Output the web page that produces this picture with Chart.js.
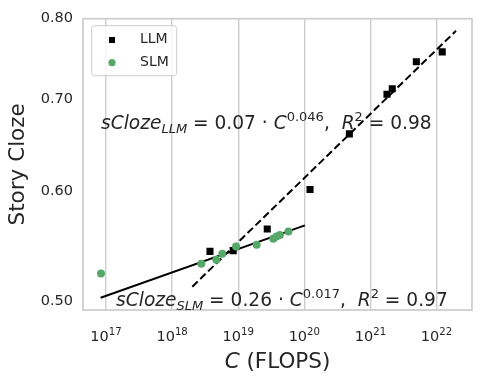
<!DOCTYPE html>
<html>
<head>
<meta charset="utf-8">
<script src="https://cdn.jsdelivr.net/npm/chart.js@4.4.1/dist/chart.umd.min.js"></script>
<style>
  body { margin: 0; background: #fff; }
</style>
</head>
<body>
<canvas id="chart" width="484" height="384"></canvas>
<script>
// --- data ---
const llmFlops = [3.74e18, 8.4e18, 2.75e19, 1.22e20, 4.8e20, 1.78e21, 2.14e21, 4.95e21, 1.22e22];
const llmScore = [0.543, 0.5437, 0.5636, 0.602, 0.6604, 0.7055, 0.712, 0.7447, 0.757];

const slmFlops = [8.4e16, 2.77e18, 4.67e18, 5.75e18, 9.27e18, 1.9e19, 3.39e19, 3.8e19, 4.27e19, 5.75e19];
const slmScore = [0.5234, 0.532, 0.5355, 0.5408, 0.5474, 0.549, 0.5545, 0.5566, 0.558, 0.5612];

// fitted power laws, endpoints of the drawn lines
const llmFitFlops = [2.02e18, 1.97e22];
const llmFitScore = [0.512, 0.784];
const slmFitFlops = [8.3e16, 1.02e20];
const slmFitScore = [0.5027, 0.567];

const xTicks = [1e17, 1e18, 1e19, 1e20, 1e21, 1e22];
const yTicks = [0.5, 0.6, 0.7, 0.8];

// where the two equations start (data coords, left/baseline)
const eqLlmAt = { x: 8.4e16, y: 0.6655 };
const eqSlmAt = { x: 1.42e17, y: 0.4959 };

const GREEN = '#55a868';
const TEXT = '#262626';
const GRID = '#cccccc';
const FONT = "'DejaVu Sans', sans-serif";

function pts(xs, ys) {
    return xs.map((x, i) => ({ x: x, y: ys[i] }));
}

// draw a run of mathtext-like pieces, starting at x, on baseline y
function drawMath(ctx, runs, x, y, size) {
    ctx.save();
    ctx.fillStyle = TEXT;
    ctx.textBaseline = 'alphabetic';
    ctx.textAlign = 'left';
    runs.forEach(r => {
        let fs = size, dy = 0;
        if (r.sub) { fs = size * 0.7; dy = size * 0.22; }
        if (r.sup) { fs = size * 0.7; dy = -size * 0.42; }
        ctx.font = (r.it ? 'italic ' : '') + fs + 'px ' + FONT;
        ctx.fillText(r.t, x, y + dy);
        x += ctx.measureText(r.t).width;
    });
    ctx.restore();
}

function mathWidth(ctx, runs, size) {
    let w = 0;
    ctx.save();
    runs.forEach(r => {
        const fs = (r.sub || r.sup) ? size * 0.7 : size;
        ctx.font = (r.it ? 'italic ' : '') + fs + 'px ' + FONT;
        w += ctx.measureText(r.t).width;
    });
    ctx.restore();
    return w;
}

const eqLlm = [
    { t: 'sCloze', it: true }, { t: 'LLM', it: true, sub: true }, { t: ' = 0.07 · ' },
    { t: 'C', it: true }, { t: '0.046', sup: true }, { t: ',  ' },
    { t: 'R', it: true }, { t: '2', sup: true }, { t: ' = 0.98' }
];
const eqSlm = [
    { t: 'sCloze', it: true }, { t: 'SLM', it: true, sub: true }, { t: ' = 0.26 · ' },
    { t: 'C', it: true }, { t: '0.017', sup: true }, { t: ',  ' },
    { t: 'R', it: true }, { t: '2', sup: true }, { t: ' = 0.97' }
];

const decorPlugin = {
    id: 'decor',
    beforeDatasetsDraw(chart) {
        const { ctx, chartArea: a, scales } = chart;
        // frame
        ctx.save();
        ctx.strokeStyle = GRID;
        ctx.lineWidth = 1.7;
        ctx.strokeRect(a.left, a.top, a.right - a.left, a.bottom - a.top);
        ctx.restore();

        // equations
        drawMath(ctx, eqLlm, scales.x.getPixelForValue(eqLlmAt.x), scales.y.getPixelForValue(eqLlmAt.y), 18.6);
        drawMath(ctx, eqSlm, scales.x.getPixelForValue(eqSlmAt.x), scales.y.getPixelForValue(eqSlmAt.y), 18.6);

        // x tick labels as 10^n
        xTicks.forEach(v => {
            const runs = [{ t: '10' }, { t: String(Math.round(Math.log10(v))), sup: true }];
            const w = mathWidth(ctx, runs, 14.5);
            drawMath(ctx, runs, scales.x.getPixelForValue(v) - w / 2, a.bottom + 31, 14.5);
        });

        // x title: italic C + (FLOPS)
        const size = 21.5;
        ctx.save();
        ctx.fillStyle = TEXT;
        ctx.textBaseline = 'middle';
        ctx.font = 'italic ' + size + 'px ' + FONT;
        const w1 = ctx.measureText('C').width;
        ctx.font = size + 'px ' + FONT;
        const w2 = ctx.measureText(' (FLOPS)').width;
        const x0 = (a.left + a.right) / 2 - (w1 + w2) / 2;
        const yT = a.bottom + 52;
        ctx.font = 'italic ' + size + 'px ' + FONT;
        ctx.fillText('C', x0, yT);
        ctx.font = size + 'px ' + FONT;
        ctx.fillText(' (FLOPS)', x0 + w1, yT);
        ctx.restore();
    },
    afterDraw(chart) {
        const { ctx, chartArea: a } = chart;
        // legend box
        const lx = a.left + 8.7, ly = a.top + 7, lw = 85, lh = 50;
        ctx.save();
        ctx.beginPath();
        ctx.roundRect(lx, ly, lw, lh, 3);
        ctx.fillStyle = 'rgba(255,255,255,0.8)';
        ctx.fill();
        ctx.strokeStyle = GRID;
        ctx.lineWidth = 1;
        ctx.stroke();

        ctx.fillStyle = '#000';
        ctx.fillRect(lx + 17.3, ly + 11.3, 6, 6);
        ctx.fillStyle = GREEN;
        ctx.beginPath();
        ctx.arc(lx + 20.3, ly + 37, 3.6, 0, Math.PI * 2);
        ctx.fill();

        ctx.fillStyle = TEXT;
        ctx.font = '14px ' + FONT;
        ctx.textBaseline = 'middle';
        ctx.fillText('LLM', lx + 48.3, ly + 13.5);
        ctx.fillText('SLM', lx + 48.3, ly + 37);
        ctx.restore();
    }
};

new Chart(document.getElementById('chart'), {
    type: 'scatter',
    data: {
        datasets: [
            {
                label: 'SLM',
                data: pts(slmFlops, slmScore),
                backgroundColor: GREEN,
                borderWidth: 0,
                pointStyle: 'circle',
                pointRadius: 4,
                order: 0
            },
            {
                label: 'LLM',
                data: pts(llmFlops, llmScore),
                backgroundColor: '#000',
                borderWidth: 0,
                pointStyle: 'rect',
                pointRadius: 5,
                order: 1
            },
            {
                label: 'LLM fit',
                data: pts(llmFitFlops, llmFitScore),
                showLine: true,
                borderColor: '#000',
                borderWidth: 2,
                borderDash: [7.5, 3.5],
                pointRadius: 0,
                order: 2
            },
            {
                label: 'SLM fit',
                data: pts(slmFitFlops, slmFitScore),
                showLine: true,
                borderColor: '#000',
                borderWidth: 2,
                pointRadius: 0,
                order: 2
            }
        ]
    },
    options: {
        responsive: false,
        animation: false,
        devicePixelRatio: 1,
        layout: { padding: { top: 16, right: 12, left: 0, bottom: 0 } },
        plugins: {
            legend: { display: false },
            tooltip: { enabled: false }
        },
        scales: {
            x: {
                type: 'logarithmic',
                min: 4.49e16,
                max: 3.44e22,
                afterBuildTicks: s => { s.ticks = xTicks.map(v => ({ value: v })); },
                afterFit: s => { s.height = 74; },
                ticks: { display: false },
                grid: { color: GRID, lineWidth: 1.4, drawTicks: false },
                border: { display: false }
            },
            y: {
                type: 'logarithmic',
                min: 0.4925,
                max: 0.80,
                afterBuildTicks: s => { s.ticks = yTicks.map(v => ({ value: v })); },
                afterFit: s => { s.width = 83; },
                ticks: {
                    callback: v => v.toFixed(2),
                    color: TEXT,
                    font: { family: FONT, size: 14.5 },
                    padding: 10,
                    autoSkip: false
                },
                grid: { display: false, drawTicks: false },
                border: { display: false },
                title: {
                    display: true,
                    text: 'Story Cloze',
                    color: TEXT,
                    font: { family: FONT, size: 21.5 },
                    padding: { top: 6, bottom: 0 }
                }
            }
        }
    },
    plugins: [decorPlugin]
});
</script>
</body>
</html>
